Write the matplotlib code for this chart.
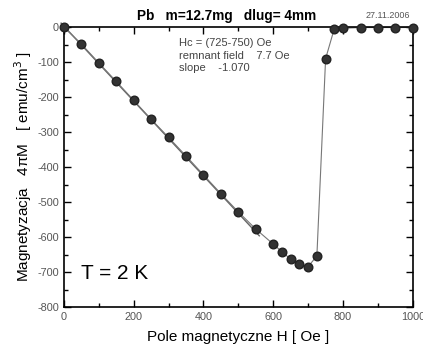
import numpy as np
import matplotlib.pyplot as plt
from matplotlib.ticker import MultipleLocator

plt.rcParams['font.family'] = ['Liberation Sans', 'DejaVu Sans']
plt.rcParams['axes.unicode_minus'] = False

# Measured points
H = [0, 50, 100, 150, 200, 250, 300, 350, 400, 450, 500, 550, 600, 625, 650,
     675, 700, 725, 750, 775, 800, 850, 900, 950, 1000]
M = [0, -48, -102, -155, -209, -263, -315, -368, -422, -476, -528, -577, -620,
     -642, -663, -678, -684, -654, -90, -4, -3, -1, -1, -1, -1]

# Linear fit of the Meissner part
slope = -1.070
intercept = 3.0
fit_range = [-8, 560]

fig = plt.figure(figsize=(4.23, 3.53), dpi=100)
ax = fig.add_axes([0.151, 0.130, 0.825, 0.793])

xf = np.array(fit_range)
ax.plot(xf, slope * xf + intercept, color='#666666', lw=1.0, clip_on=False, zorder=2)
ax.plot(H, M, color='#777777', lw=0.8, zorder=2)
ax.plot(H, M, 'o', color='#333333', ms=6.2, mec='#222222', zorder=3, clip_on=False)

ax.set_xlim(0, 1000)
ax.set_ylim(-800, 0)
ax.xaxis.set_major_locator(MultipleLocator(200))
ax.xaxis.set_minor_locator(MultipleLocator(100))
ax.yaxis.set_major_locator(MultipleLocator(100))
ax.yaxis.set_minor_locator(MultipleLocator(50))
ax.tick_params(which='both', direction='in', top=True, right=True,
               labelsize=7.8, labelcolor='#555555', width=1.0)
ax.tick_params(which='major', length=5)
ax.tick_params(which='minor', length=3)
for s in ax.spines.values():
    s.set_linewidth(1.2)

ax.set_xlabel('Pole magnetyczne H [ Oe ]', fontsize=11, labelpad=6)
ax.set_ylabel('Magnetyzacja   4\u03c0M   [ emu/cm$^3$ ]', fontsize=11, labelpad=2)

fig.text(0.535, 0.955, 'Pb   m=12.7mg   dlug= 4mm', ha='center', va='center',
         fontsize=9.8, fontweight='bold')
fig.text(0.97, 0.957, '27.11.2006', ha='right', va='center', fontsize=6.5,
         color='#555555')

ax.text(0.33, 0.96, 'Hc = (725-750) Oe\nremnant field    7.7 Oe\nslope    -1.070',
        transform=ax.transAxes, ha='left', va='top', fontsize=8,
        color='#444444', linespacing=1.3)
ax.text(0.05, 0.12, 'T = 2 K', transform=ax.transAxes, ha='left', va='center',
        fontsize=15)

fig.savefig('out.png', dpi=100)
